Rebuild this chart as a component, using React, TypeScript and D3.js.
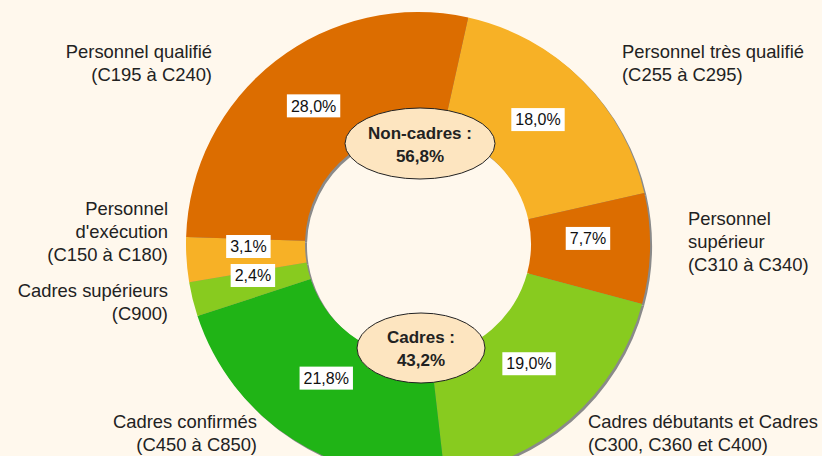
import React, { useEffect, useRef } from 'react'
import * as d3 from 'd3'

// slices, clockwise from the top
const categories = [
  'Personnel très qualifié',
  'Personnel supérieur',
  'Cadres débutants et Cadres',
  'Cadres confirmés',
  'Cadres supérieurs',
  "Personnel d'exécution",
  'Personnel qualifié',
]
const shares = [18.0, 7.7, 19.0, 21.8, 2.4, 3.1, 28.0]
const sliceColors = ['#F7B126', '#DC6D00', '#88CB1F', '#20B416', '#88CB1F', '#F7B126', '#DC6D00']

// outer captions (lines) for each slice
const captions = [
  ['Personnel très qualifié', '(C255 à C295)'],
  ['Personnel', 'supérieur', '(C310 à C340)'],
  ['Cadres débutants et Cadres', '(C300, C360 et C400)'],
  ['Cadres confirmés', '(C450 à C850)'],
  ['Cadres supérieurs', '(C900)'],
  ['Personnel', "d'exécution", '(C150 à C180)'],
  ['Personnel qualifié', '(C195 à C240)'],
]
const captionPlace = [
  { x: 622, y: 58, anchor: 'start' },
  { x: 688, y: 225, anchor: 'start' },
  { x: 588, y: 428, anchor: 'start' },
  { x: 257, y: 428, anchor: 'end' },
  { x: 168, y: 297, anchor: 'end' },
  { x: 168, y: 215, anchor: 'end' },
  { x: 212, y: 58, anchor: 'end' },
]

const groups = [
  { name: 'Non-cadres :', total: '56,8%' },
  { name: 'Cadres :', total: '43,2%' },
]

const fmt = (v: number) => v.toFixed(1).replace('.', ',') + '%'

export default function App() {
  const ref = useRef<SVGSVGElement>(null)

  useEffect(() => {
    const width = 822
    const height = 456
    const cx = 418
    const cy = 244
    const outerR = 232
    const innerR = 113

    const svg = d3.select(ref.current)
    svg.selectAll('*').remove()
    svg.attr('width', width).attr('height', height)

    svg.append('rect').attr('width', width).attr('height', height).attr('fill', '#FFF8ED')

    const pie = d3.pie<number>().sort(null).startAngle((12.5 * Math.PI) / 180).endAngle((372.5 * Math.PI) / 180)
    const arcs = pie(shares)
    const arc = d3.arc<d3.PieArcDatum<number>>().innerRadius(innerR).outerRadius(outerR)
    const labelArc = d3.arc<d3.PieArcDatum<number>>().innerRadius(170).outerRadius(170)

    // shadow
    svg.append('g')
      .attr('transform', `translate(${cx + 2},${cy + 2})`)
      .selectAll('path')
      .data(arcs)
      .enter()
        .append('path')
        .attr('d', arc)
        .attr('fill', '#8a8a8a')

    const g = svg.append('g').attr('transform', `translate(${cx},${cy})`)
    g.selectAll('path.slice')
      .data(arcs)
      .enter()
        .append('path')
        .attr('class', 'slice')
        .attr('d', arc)
        .attr('fill', (d, i) => sliceColors[i])

    // percentage boxes
    arcs.forEach((d) => {
      const [lx, ly] = labelArc.centroid(d)
      const lbl = g.append('g').attr('transform', `translate(${lx},${ly - (ly > 0 ? 9 : 4)})`)
      const box = lbl.append('rect').attr('fill', '#ffffff')
      const t = lbl.append('text')
        .attr('text-anchor', 'middle')
        .attr('dy', '0.36em')
        .attr('font-family', 'Liberation Sans, Arial, sans-serif')
        .attr('font-size', 16)
        .attr('fill', '#111')
        .text(fmt(d.data))
      const w = (t.node() as SVGTextElement).getComputedTextLength()
      box.attr('x', -w / 2 - 4).attr('y', -11.5).attr('width', w + 8).attr('height', 23)
    })

    // captions
    captions.forEach((lines, i) => {
      const p = captionPlace[i]
      const t = svg.append('text')
        .attr('x', p.x)
        .attr('y', p.y)
        .attr('text-anchor', p.anchor)
        .attr('font-family', 'Liberation Sans, Arial, sans-serif')
        .attr('font-size', 18.4)
        .attr('fill', '#222')
      lines.forEach((line, j) => {
        t.append('tspan').attr('x', p.x).attr('dy', j === 0 ? 0 : 23).text(line)
      })
    })

    // group ellipses
    const ellipses = [
      { x: 420, y: 143.5, rx: 75, ry: 35.5 },
      { x: 421, y: 348, rx: 64, ry: 35 },
    ]
    groups.forEach((grp, i) => {
      const e = ellipses[i]
      svg.append('ellipse')
        .attr('cx', e.x).attr('cy', e.y).attr('rx', e.rx).attr('ry', e.ry)
        .attr('fill', '#FDE5C0')
        .attr('stroke', '#222')
        .attr('stroke-width', 1)
      const t = svg.append('text')
        .attr('text-anchor', 'middle')
        .attr('font-family', 'Liberation Sans, Arial, sans-serif')
        .attr('font-weight', 'bold')
        .attr('font-size', 17)
        .attr('fill', '#222')
      t.append('tspan').attr('x', e.x).attr('y', e.y - 5).text(grp.name)
      t.append('tspan').attr('x', e.x).attr('y', e.y + 18).text(grp.total)
    })
  }, [])

  return (
    <svg ref={ref} style={{ position: 'absolute', left: 0, top: 0 }}>
    </svg>
  )
}
